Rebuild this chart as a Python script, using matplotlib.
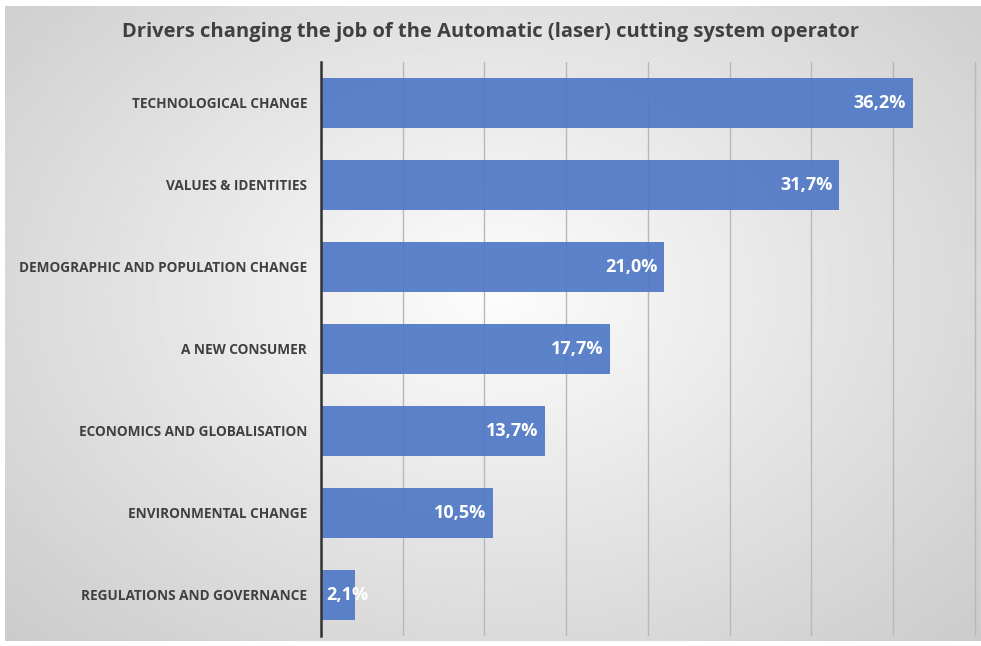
import numpy as np
import matplotlib.pyplot as plt

categories = [
    'TECHNOLOGICAL CHANGE',
    'VALUES & IDENTITIES',
    'DEMOGRAPHIC AND POPULATION CHANGE',
    'A NEW CONSUMER',
    'ECONOMICS AND GLOBALISATION',
    'ENVIRONMENTAL CHANGE',
    'REGULATIONS AND GOVERNANCE',
]
values = [36.2, 31.7, 21.0, 17.7, 13.7, 10.5, 2.1]
value_labels = ['36,2%', '31,7%', '21,0%', '17,7%', '13,7%', '10,5%', '2,1%']

plt.rcParams['font.family'] = ['Open Sans', 'DejaVu Sans']

W, H = 981, 646
fig = plt.figure(figsize=(W / 100, H / 100), dpi=100)
fig.patch.set_facecolor('white')

# gray radial gradient panel behind the chart
bg = fig.add_axes([5 / W, 1 - 641 / H, 976 / W, 635 / H])
yy, xx = np.mgrid[-1:1:300j, -1:1:450j]
r = np.sqrt((xx * 0.9) ** 2 + ((yy + 0.1) * 0.8) ** 2)
shade = 0.99 - 0.2 * np.clip(r, 0, 1.3) / 1.3
bg.imshow(shade, cmap='gray', vmin=0, vmax=1, aspect='auto', extent=[0, 1, 0, 1])
bg.axis('off')

ax = fig.add_axes([321 / W, 1 - 636 / H, (978 - 321) / W, (636 - 62) / H])
ax.patch.set_alpha(0)

y = np.arange(len(categories))
ax.barh(y, values, height=0.6, color='#4f78c6', alpha=0.92, zorder=3)

for yi, v, lab in zip(y, values, value_labels):
    if v < 5:
        # label too wide for the bar: starts at the axis instead
        ax.text(0.35, yi, lab, ha='left', va='center', color='white',
                fontsize=13, fontweight='bold', zorder=4)
    else:
        ax.text(v - 0.4, yi, lab, ha='right', va='center', color='white',
                fontsize=13, fontweight='bold', zorder=4)

ax.set_xlim(0, 40.2)
ax.set_ylim(len(categories) - 0.5, -0.5)
ax.set_xticks(np.arange(0, 41, 5))
ax.xaxis.grid(True, color='#b8b8b8', linewidth=1, zorder=1)
ax.tick_params(axis='x', length=0, labelbottom=False)
ax.tick_params(axis='y', length=0, pad=10)
ax.set_yticks(y)
ax.set_yticklabels(categories, fontsize=9.8, fontweight='bold', color='#404040')

for s in ['top', 'right', 'bottom']:
    ax.spines[s].set_visible(False)
ax.spines['left'].set_color('#333333')
ax.spines['left'].set_linewidth(1.8)
ax.spines['left'].set_zorder(5)

fig.text(0.5, 1 - 32 / H, 'Drivers changing the job of the Automatic (laser) cutting system operator',
         ha='center', va='center', fontsize=14.5, fontweight='bold', color='#404040')

plt.savefig('out.png', dpi=100)
